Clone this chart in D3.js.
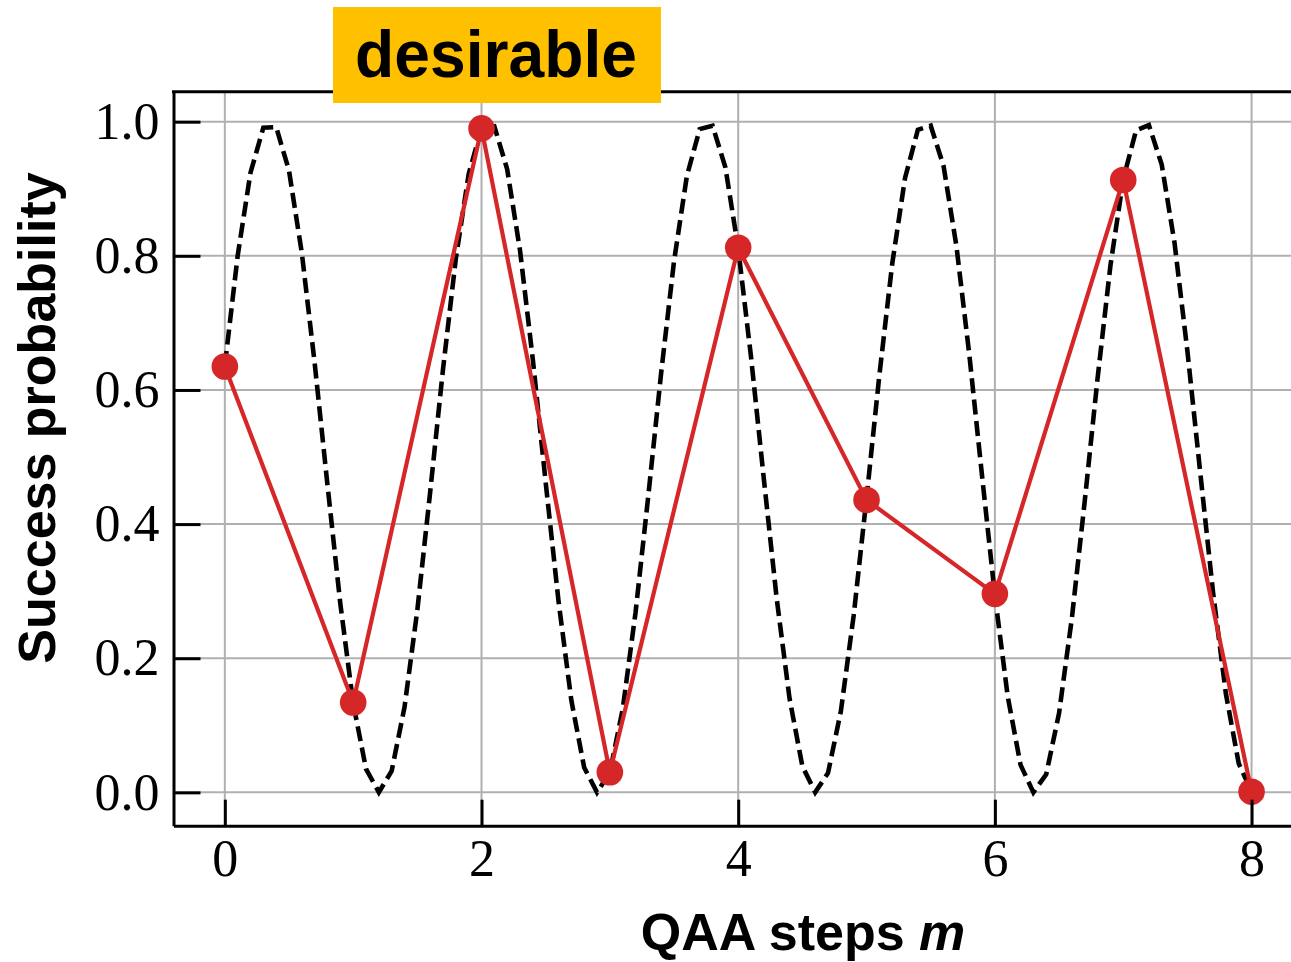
<!DOCTYPE html>
<html>
<head>
<meta charset="utf-8">
<script src="https://cdn.jsdelivr.net/npm/d3@7"></script>
<style>
  body { margin: 0; background: #fff; }
</style>
</head>
<body>
<script>
let width = 1291;
let height = 962;

// QAA steps (integer runs) and measured success probability
let steps = [0, 1, 2, 3, 4, 5, 6, 7, 8];
let success = [0.635, 0.134, 0.990, 0.030, 0.812, 0.436, 0.296, 0.913, 0.001];

// ideal curve, sampled every 0.1 step
let curveStep = 0.1;
let curveValues = [
  0.636, 0.800, 0.924, 0.991, 0.992, 0.927, 0.804, 0.640, 0.458, 0.281,
  0.133, 0.035, 0.000, 0.032, 0.127, 0.272, 0.448, 0.631, 0.796, 0.922,
  0.990, 0.993, 0.929, 0.808, 0.645, 0.462, 0.285, 0.137, 0.037, 0.000,
  0.030, 0.124, 0.268, 0.443, 0.626, 0.792, 0.919, 0.989, 0.994, 0.932,
  0.811, 0.649, 0.467, 0.289, 0.140, 0.039, 0.000, 0.029, 0.121, 0.264,
  0.439, 0.622, 0.788, 0.916, 0.988, 0.994, 0.934, 0.815, 0.654, 0.472,
  0.294, 0.143, 0.041, 0.000, 0.027, 0.118, 0.260, 0.434, 0.617, 0.785,
  0.914, 0.987, 0.995, 0.936, 0.819, 0.658, 0.477, 0.298, 0.147, 0.043,
  0.001
];
let curveSteps = curveValues.map((d, i) => i * curveStep);

let xTicks = [0, 2, 4, 6, 8];
let yTicks = [0, 0.2, 0.4, 0.6, 0.8, 1.0];

let svg = d3.select('body').append('svg').attr('width', width).attr('height', height);

let x = d3.scaleLinear().domain([-0.4, 8.4]).range([173.5, 1302.9]);
let y = d3.scaleLinear().domain([-0.0497, 1.0447]).range([825.7, 91.7]);

// grid
let grid = svg.append('g').attr('class', 'grid');
grid.selectAll('line.gx')
  .data(xTicks)
  .enter()
    .append('line')
    .attr('class', 'gx')
    .attr('x1', d => x(d)).attr('x2', d => x(d))
    .attr('y1', y.range()[0]).attr('y2', y.range()[1])
    .attr('stroke', '#b0b0b0')
    .attr('stroke-width', 2);
grid.selectAll('line.gy')
  .data(yTicks)
  .enter()
    .append('line')
    .attr('class', 'gy')
    .attr('y1', d => y(d)).attr('y2', d => y(d))
    .attr('x1', x.range()[0]).attr('x2', x.range()[1])
    .attr('stroke', '#b0b0b0')
    .attr('stroke-width', 2);

// dashed ideal curve
let curveLine = d3.line().x(d => x(d[0])).y(d => y(d[1]));
svg.append('path')
  .datum(d3.zip(curveSteps, curveValues))
  .attr('d', curveLine)
  .attr('fill', 'none')
  .attr('stroke', 'black')
  .attr('stroke-width', 4.6)
  .attr('stroke-dasharray', '15,6.5');

// measured points
let pts = d3.zip(steps, success);
svg.append('path')
  .datum(pts)
  .attr('d', curveLine)
  .attr('fill', 'none')
  .attr('stroke', '#d62728')
  .attr('stroke-width', 4.2);

svg.append('g').selectAll('circle')
  .data(pts)
  .enter()
    .append('circle')
    .attr('cx', d => x(d[0]))
    .attr('cy', d => y(d[1]))
    .attr('r', 13.3)
    .attr('fill', '#d62728');

// axes
let yAxis = d3.axisLeft(y).tickValues(yTicks).tickFormat(d3.format('.1f'))
  .tickSizeInner(-27).tickSizeOuter(0).tickPadding(14);
let xAxis = d3.axisBottom(x).tickValues(xTicks).tickFormat(d3.format('d'))
  .tickSizeInner(-26).tickSizeOuter(0).tickPadding(13);

let gy = svg.append('g').attr('transform', `translate(${x.range()[0]},0)`).call(yAxis);
let gx = svg.append('g').attr('transform', `translate(0,${y.range()[0]})`).call(xAxis);

[gx, gy].forEach(g => {
  g.selectAll('.domain').attr('stroke', 'black').attr('stroke-width', 3);
  g.selectAll('.tick line').attr('stroke', 'black').attr('stroke-width', 3);
  g.selectAll('.tick text')
    .attr('font-family', '"Liberation Serif", "Times New Roman", serif')
    .attr('font-size', 52)
    .attr('fill', 'black');
});

// top spine
svg.append('line')
  .attr('x1', x.range()[0] - 1.5).attr('x2', x.range()[1])
  .attr('y1', y.range()[1]).attr('y2', y.range()[1])
  .attr('stroke', 'black')
  .attr('stroke-width', 3);

// axis titles
svg.append('text')
  .attr('transform', 'translate(55,418) rotate(-90)')
  .attr('text-anchor', 'middle')
  .attr('font-family', '"Liberation Sans", Arial, sans-serif')
  .attr('font-weight', 'bold')
  .attr('font-size', 52)
  .text('Success probability');

let xt = svg.append('text')
  .attr('x', 803)
  .attr('y', 950)
  .attr('text-anchor', 'middle')
  .attr('font-family', '"Liberation Sans", Arial, sans-serif')
  .attr('font-weight', 'bold')
  .attr('font-size', 52);
xt.append('tspan').text('QAA steps ');
xt.append('tspan').attr('font-style', 'italic').text('m');

// "desirable" label box
svg.append('rect')
  .attr('x', 333).attr('y', 7)
  .attr('width', 328).attr('height', 96)
  .attr('fill', '#ffc000');
svg.append('text')
  .attr('x', 496)
  .attr('y', 77)
  .attr('text-anchor', 'middle')
  .attr('font-family', '"Liberation Sans", Arial, sans-serif')
  .attr('font-weight', 'bold')
  .attr('font-size', 66)
  .attr('textLength', 282)
  .attr('lengthAdjust', 'spacingAndGlyphs')
  .text('desirable');
</script>
</body>
</html>
